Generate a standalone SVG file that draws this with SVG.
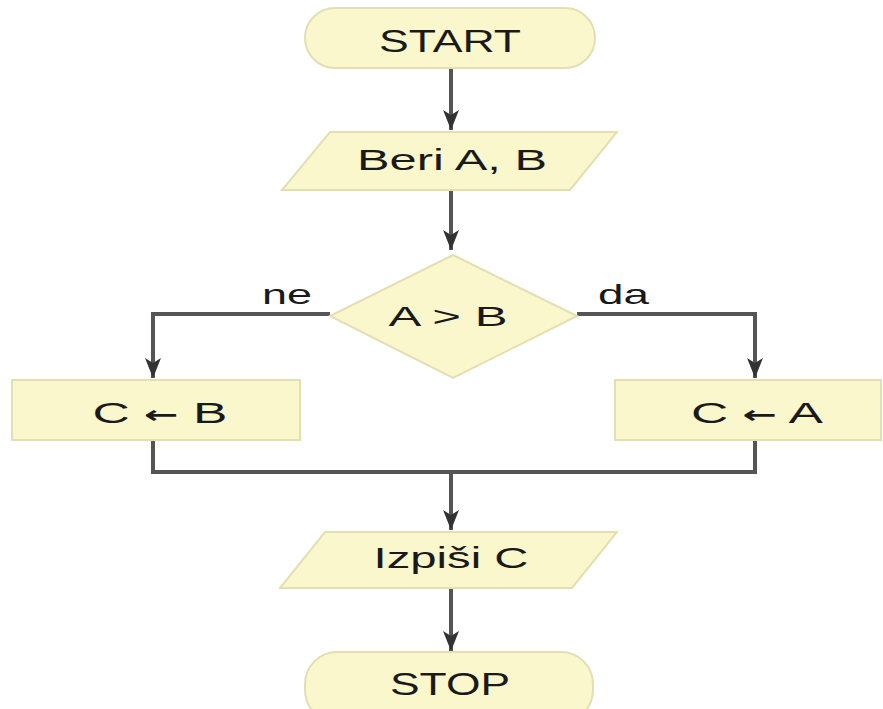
<svg xmlns="http://www.w3.org/2000/svg" width="883" height="709" viewBox="0 0 883 709">
  <defs>
    <marker id="arrow" markerUnits="userSpaceOnUse" markerWidth="22" markerHeight="16" viewBox="0 0 22 16" refX="20" refY="8" orient="auto">
      <path d="M0,0 L20,8 L0,16 L5,8 Z" fill="#333"/>
    </marker>
  </defs>
  <style>
    .shape { fill: #faf7cc; stroke: #e2dfb4; stroke-width: 2; }
    .label { font-family: "Liberation Sans", Arial, sans-serif; fill: #1a1a1a; text-anchor: middle; }
    .edge { fill: none; stroke: #555; stroke-width: 4; }
    .tag { font-family: "Liberation Sans", Arial, sans-serif; fill: #1a1a1a; }
    .sym { font-family: "DejaVu Sans", sans-serif; font-weight: bold; }
  </style>
  <rect width="883" height="709" fill="#ffffff"/>

  <g id="connectors">
    <line class="edge" x1="451" y1="68" x2="451" y2="130" marker-end="url(#arrow)"/>
    <line class="edge" x1="451" y1="190" x2="451" y2="250" marker-end="url(#arrow)"/>
    <polyline class="edge" points="330,314 153,314 153,378" marker-end="url(#arrow)"/>
    <polyline class="edge" points="577,314 755,314 755,378" marker-end="url(#arrow)"/>
    <polyline class="edge" points="153,440 153,472 755,472 755,440"/>
    <line class="edge" x1="451" y1="472" x2="451" y2="530" marker-end="url(#arrow)"/>
    <line class="edge" x1="451" y1="588" x2="451" y2="651" marker-end="url(#arrow)"/>
    <text class="tag" x="262" y="304" font-size="28" textLength="50" lengthAdjust="spacingAndGlyphs">ne</text>
    <text class="tag" x="598" y="304" font-size="28" textLength="51" lengthAdjust="spacingAndGlyphs">da</text>
  </g>

  <g id="start">
    <rect class="shape" x="305" y="8" width="290" height="60" rx="30" ry="30"/>
    <text class="label" x="450" y="52" font-size="32" textLength="142" lengthAdjust="spacingAndGlyphs">START</text>
  </g>

  <g id="input">
    <polygon class="shape" points="330,132 617,132 570,190 282,190"/>
    <text class="label" x="452" y="170" font-size="30" textLength="190" lengthAdjust="spacingAndGlyphs">Beri A, B</text>
  </g>

  <g id="decision">
    <polygon class="shape" points="453,255 577,316 453,378 330,316"/>
    <text class="label" x="448" y="326" font-size="28" textLength="119" lengthAdjust="spacingAndGlyphs">A &gt; B</text>
  </g>

  <g id="assign-b">
    <rect class="shape" x="12" y="380" width="288" height="60"/>
    <text class="label" x="160" y="423" font-size="30" textLength="135" lengthAdjust="spacingAndGlyphs">C <tspan class="sym" font-size="24">←</tspan> B</text>
  </g>

  <g id="assign-a">
    <rect class="shape" x="615" y="380" width="266" height="60"/>
    <text class="label" x="757" y="423" font-size="30" textLength="132" lengthAdjust="spacingAndGlyphs">C <tspan class="sym" font-size="24">←</tspan> A</text>
  </g>

  <g id="output">
    <polygon class="shape" points="325,532 617,532 572,588 280,588"/>
    <text class="label" x="451" y="568" font-size="30" textLength="155" lengthAdjust="spacingAndGlyphs">Izpiši C</text>
  </g>

  <g id="stop">
    <rect class="shape" x="305" y="652" width="288" height="70" rx="32" ry="32"/>
    <text class="label" x="450" y="695" font-size="32" textLength="120" lengthAdjust="spacingAndGlyphs">STOP</text>
  </g>
</svg>
